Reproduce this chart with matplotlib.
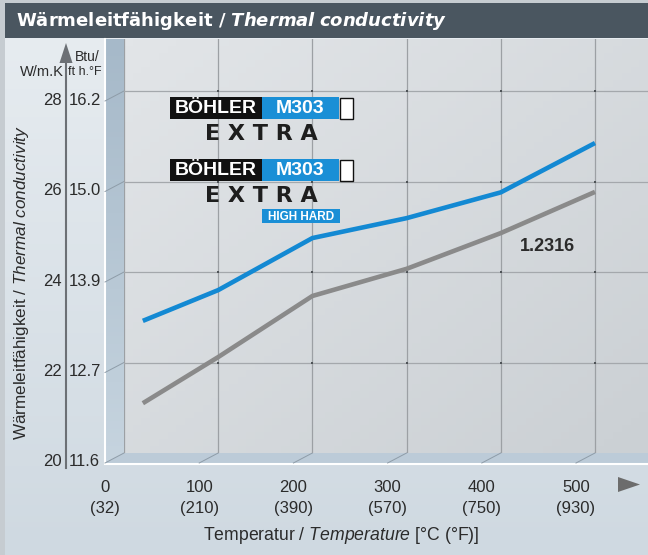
import numpy as np
import matplotlib.pyplot as plt
import matplotlib.transforms as mtransforms
from matplotlib.colors import LinearSegmentedColormap
from matplotlib.patches import Rectangle, Polygon

plt.rcParams['font.family'] = ['Liberation Sans', 'DejaVu Sans']
plt.rcParams['mathtext.fontset'] = 'custom'
plt.rcParams['mathtext.rm'] = 'Liberation Sans'
plt.rcParams['mathtext.it'] = 'Liberation Sans:italic'
plt.rcParams['mathtext.bf'] = 'DejaVu Sans:italic:bold'

# data (W/m.K)
temp_c = [20, 100, 200, 300, 400, 500]
m303_extra = [22.92, 23.60, 24.75, 25.19, 25.76, 26.85]
steel_12316 = [21.10, 22.12, 23.47, 24.07, 24.86, 25.77]

x_ticks = [0, 100, 200, 300, 400, 500]
x_ticks_f = ['(32)', '(210)', '(390)', '(570)', '(750)', '(930)']
y_ticks = [20, 22, 24, 26, 28]
y_ticks_imp = ['11.6', '12.7', '13.9', '15.0', '16.2']

# layout (pixels)
W, H = 648, 555
wall_l, wall_r, wall_t, wall_b = 124, 648, 39, 453
px_per_100c = 94.2
px_per_unit = 45.25
dx, dy = -19, 10   # depth offset of the front edge

BLUE = '#1389d3'
GRAY = '#8a8a8a'
TXT = '#2b2b2b'

fig = plt.figure(figsize=(W / 100, H / 100), dpi=100)

# ---- background layer
bg = fig.add_axes([0, 0, 1, 1])
bg.axis('off')
panel = LinearSegmentedColormap.from_list('panel', ['#e8edf1', '#cfd9e1'])
bg.imshow(np.linspace(0, 1, 100)[:, None], extent=(0, W, H, 0), aspect='auto', cmap=panel)
wallmap = LinearSegmentedColormap.from_list('wall', ['#e2e5e8', '#cbd0d4'])
gx, gy = np.meshgrid(np.linspace(0, 1, 60), np.linspace(0, 1, 60))
bg.imshow((gx + gy) / 2, extent=(wall_l, wall_r, wall_b, wall_t), aspect='auto', cmap=wallmap)

side = Polygon([(wall_l + dx, wall_t), (wall_l, wall_t), (wall_l, wall_b), (wall_l + dx, wall_b + dy)],
               closed=True, facecolor='none', lw=0)
bg.add_patch(side)
sidemap = LinearSegmentedColormap.from_list('side', ['#a6b9c9', '#c6d4df'])
im = bg.imshow(np.linspace(0, 1, 100)[:, None], extent=(wall_l + dx, wall_l, wall_b + dy, wall_t),
               aspect='auto', cmap=sidemap)
im.set_clip_path(side)

bg.add_patch(Polygon([(wall_l, wall_b), (wall_r, wall_b), (wall_r, wall_b + dy), (wall_l + dx, wall_b + dy)],
                     closed=True, color='#bccbd8', lw=0))
bg.plot([wall_l + dx - 0.5, wall_r], [wall_b + dy + 0.5] * 2, color='white', lw=1.5)
bg.plot([wall_l + dx - 0.5] * 2, [wall_t, wall_b + dy], color='white', lw=1.5)
for v in y_ticks:
    yb = wall_b - (v - 20) * px_per_unit
    bg.plot([wall_l, wall_l + dx], [yb, yb + dy], color='#8e9ca8', lw=0.7)
for t in x_ticks[1:]:
    xb = wall_l + t / 100 * px_per_100c
    bg.plot([xb, xb + dx], [wall_b, wall_b + dy], color='#8e9ca8', lw=0.7)
bg.add_patch(Rectangle((0, 0), 5, H, color='#c6ccd1', lw=0))
bg.add_patch(Rectangle((0, 0), W, 3, color='#c6ccd1', lw=0))
bg.add_patch(Rectangle((5, 3), W - 5, 35, color='#4a5660', lw=0))
bg.set_xlim(0, W)
bg.set_ylim(H, 0)

# ---- data layer (back wall)
dax = fig.add_axes([wall_l / W, (H - wall_b) / H, (wall_r - wall_l) / W, (wall_b - wall_t) / H])
dax.set_facecolor('none')
dax.set_xlim(0, (wall_r - wall_l) / px_per_100c * 100)
dax.set_ylim(20, 20 + (wall_b - wall_t) / px_per_unit)
dax.axis('off')
for t in x_ticks:
    dax.axvline(t, color='#9ca0a4', lw=0.9, zorder=1)
for v in y_ticks[1:]:
    dax.axhline(v, color='#a4a8ac', lw=0.9, zorder=1)
mx, my = np.meshgrid(x_ticks[1:], y_ticks[1:])
dax.scatter(mx.ravel(), my.ravel(), marker='s', s=3, color='#4e5357', lw=0, zorder=2)
dax.plot(temp_c, steel_12316, color=GRAY, lw=3.3, solid_capstyle='butt', zorder=3)
dax.plot(temp_c, m303_extra, color=BLUE, lw=3.3, solid_capstyle='butt', zorder=4)
dax.text(450, 24.57, '1.2316', fontsize=13, fontweight='bold', color=TXT, ha='center', va='center')

# ---- overlay (labels, logos)
top = fig.add_axes([0, 0, 1, 1])
top.set_facecolor('none')
top.set_xlim(0, W)
top.set_ylim(H, 0)
top.axis('off')

top.text(16, 20.5, 'Wärmeleitfähigkeit / $\\mathbf{Thermal\\ conductivity}$', color='white',
         fontsize=13, fontweight='bold', family='DejaVu Sans', ha='left', va='center')

ylab_tr = mtransforms.blended_transform_factory(
    top.transData, mtransforms.offset_copy(dax.transData, fig=fig, y=-dy + 1, units='dots'))
for v, s in zip(y_ticks, y_ticks_imp):
    top.text(62, v, str(v), transform=ylab_tr, ha='right', va='center', fontsize=12, color=TXT)
    top.text(68.5, v, s, transform=ylab_tr, ha='left', va='center', fontsize=12, color=TXT)

xlab_tr = mtransforms.blended_transform_factory(
    mtransforms.offset_copy(dax.transData, fig=fig, x=dx, units='dots'), top.transData)
for t, f in zip(x_ticks, x_ticks_f):
    top.text(t, 488, str(t), transform=xlab_tr, ha='center', va='center', fontsize=12, color=TXT)
    top.text(t, 508, f, transform=xlab_tr, ha='center', va='center', fontsize=12, color=TXT)

# y axis with arrow
top.plot([66, 66], [62, 468], color='#6c7075', lw=1.5)
top.add_patch(Polygon([(59.5, 63), (72.5, 63), (66, 43)], closed=True, color='#6c7075', lw=0))
top.text(75, 57, 'Btu/', fontsize=10, color=TXT, ha='left', va='center')
top.text(64, 72, 'W/m.K', fontsize=10.5, color=TXT, ha='right', va='center')
top.text(67.5, 72, 'ft h.°F', fontsize=9, color=TXT, ha='left', va='center')
top.text(22, 282, 'Wärmeleitfähigkeit / $\\mathit{Thermal\\ conductivity}$', rotation=90,
         fontsize=12.3, color=TXT, ha='center', va='center')

# x axis arrow and title
top.add_patch(Polygon([(618, 477), (618, 492), (640, 484.5)], closed=True, color='#6c6c6c', lw=0))
top.text(341, 535, 'Temperatur / $\\mathit{Temperature}$ [°C (°F)]', fontsize=12.7, color=TXT,
         ha='center', va='center')

# logos
for y0, high_hard in [(97, False), (159, True)]:
    top.add_patch(Rectangle((170, y0), 92, 22, color='#111111', lw=0))
    top.add_patch(Rectangle((262, y0), 77, 22, color='#1a8fd6', lw=0))
    top.add_patch(Rectangle((339.5, y0 + 0.5), 13, 21, facecolor='white', edgecolor='#111111', lw=1))
    top.text(216, y0 + 11.5, 'BÖHLER', color='white', fontsize=14, fontweight='bold', ha='center', va='center')
    top.text(300, y0 + 11.5, 'M303', color='white', fontsize=14, fontweight='bold', ha='center', va='center')
    top.text(261, y0 + 37, 'E X T R A', color='#1e1e1e', fontsize=16, fontweight='bold',
             family='DejaVu Sans', ha='center', va='center')
    if high_hard:
        top.add_patch(Rectangle((262, 209), 78, 14, color='#1a8fd6', lw=0))
        top.text(301, 216.5, 'HIGH HARD', color='white', fontsize=8.5, fontweight='bold',
                 ha='center', va='center')

fig.savefig('out.png', dpi=100)
